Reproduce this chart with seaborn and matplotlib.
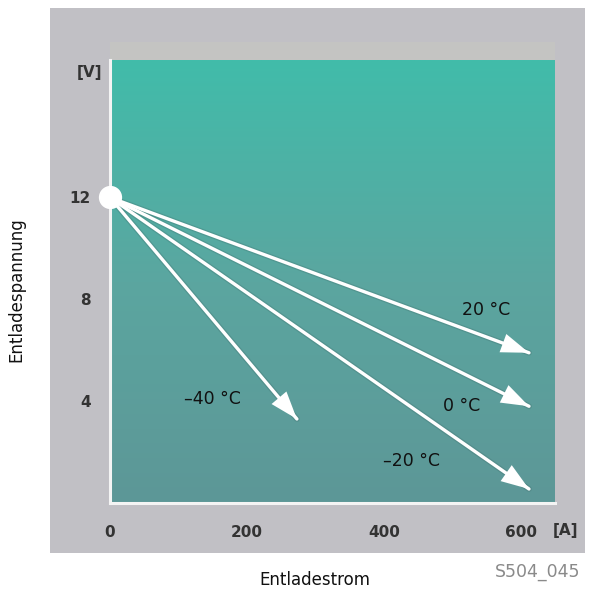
import numpy as np
import pandas as pd
import matplotlib
matplotlib.use("Agg")
import matplotlib.pyplot as plt
from matplotlib.patches import Rectangle
from matplotlib.colors import LinearSegmentedColormap
import seaborn as sns

# Discharge characteristics: voltage drop vs. discharge current per temperature
temperatures = ["20 °C", "0 °C", "–20 °C", "–40 °C"]
start_current = 0
start_voltage = 12
end_current = [612, 612, 612, 273]
end_voltage = [5.9, 3.8, 0.55, 3.3]
label_current = [550, 514, 441, 149]
label_voltage = [7.6, 3.8, 1.65, 4.1]

x_ticks = [0, 200, 400, 600]
y_ticks = [4, 8, 12]

sns.set_theme(style="white")
plt.rcParams["font.family"] = ["DejaVu Sans"]

W, H = 592, 593
fig = plt.figure(figsize=(W / 100, H / 100), dpi=100)
fig.patch.set_facecolor("white")

# grey panel behind the diagram
fig.patches.append(Rectangle((50 / W, 1 - 553 / H), (585 - 50) / W, (553 - 8) / H,
                             transform=fig.transFigure, facecolor="#c1c0c5",
                             edgecolor="none", zorder=-10))
fig.patches.append(Rectangle((110 / W, 1 - 60 / H), (555 - 110) / W, 18 / H,
                             transform=fig.transFigure, facecolor="#c4c4c2",
                             edgecolor="none", zorder=-9))

left, right, top, bottom = 110, 555, 60, 503
ax = fig.add_axes([left / W, 1 - bottom / H, (right - left) / W, (bottom - top) / H])
ax.set_xlim(0, 650)
ax.set_ylim(0, 17.4)

# vertical teal gradient
cmap = LinearSegmentedColormap.from_list("teal", ["#5d9797", "#5ba6a0", "#41bcaa"])
grad = np.linspace(0, 1, 256).reshape(-1, 1)
ax.imshow(grad, cmap=cmap, aspect="auto", origin="lower",
          extent=[0, 650, 0, 17.4], zorder=0)

# arrow shafts
rows = []
for t, xe, ye in zip(temperatures, end_current, end_voltage):
    rows.append({"temp": t, "current": start_current, "voltage": start_voltage})
    rows.append({"temp": t, "current": xe, "voltage": ye})
df = pd.DataFrame(rows)
sns.lineplot(data=df, x="current", y="voltage", units="temp", estimator=None,
             color="white", lw=2.4, sort=False, ax=ax, zorder=3, legend=False)
sns.lineplot(data=df, x="current", y="voltage", units="temp", estimator=None,
             color="#3f6f6c", lw=4.2, alpha=0.3, sort=False, ax=ax, zorder=2,
             legend=False)

# arrow heads
for xe, ye in zip(end_current, end_voltage):
    ax.annotate("", xy=(xe, ye), xytext=(start_current, start_voltage),
                arrowprops=dict(arrowstyle="-|>,head_length=2.0,head_width=0.7",
                                mutation_scale=10, color="white", lw=0,
                                shrinkA=0, shrinkB=0),
                zorder=4)

# starting point
sns.scatterplot(x=[start_current], y=[start_voltage], s=240, color="white",
                edgecolor="white", ax=ax, zorder=5, clip_on=False)

for t, xl, yl in zip(temperatures, label_current, label_voltage):
    ax.text(xl, yl, t, ha="center", va="center", fontsize=12.5, color="#111111",
            zorder=6)

# axes styling
for s in ["top", "right"]:
    ax.spines[s].set_visible(False)
for s in ["left", "bottom"]:
    ax.spines[s].set_color("#f4f4f4")
    ax.spines[s].set_linewidth(2.2)
ax.set_xticks(x_ticks)
ax.set_yticks(y_ticks)
ax.set_xticklabels([str(v) for v in x_ticks], fontsize=11, fontweight="bold",
                   color="#333333")
ax.set_yticklabels([str(v) for v in y_ticks], fontsize=11, fontweight="bold",
                   color="#333333")
ax.tick_params(axis="x", length=0, pad=16)
ax.tick_params(axis="y", length=0, pad=14)
ax.set_xlabel("")
ax.set_ylabel("")
ax.grid(False)

fig.text(90 / W, 1 - 72 / H, "[V]", ha="center", va="center", fontsize=11,
         fontweight="bold", color="#333333")
fig.text(566 / W, 1 - 531 / H, "[A]", ha="center", va="center", fontsize=11,
         fontweight="bold", color="#333333")
fig.text(16 / W, 1 - 290 / H, "Entladespannung", rotation=90, ha="center",
         va="center", fontsize=12, color="#111111")
fig.text(315 / W, 1 - 580 / H, "Entladestrom", ha="center", va="center",
         fontsize=12, color="#111111")
fig.text(538 / W, 1 - 572 / H, "S504_045", ha="center", va="center",
         fontsize=12.5, color="#8a8a8a")

fig.savefig("out.png", dpi=100, facecolor="white")
